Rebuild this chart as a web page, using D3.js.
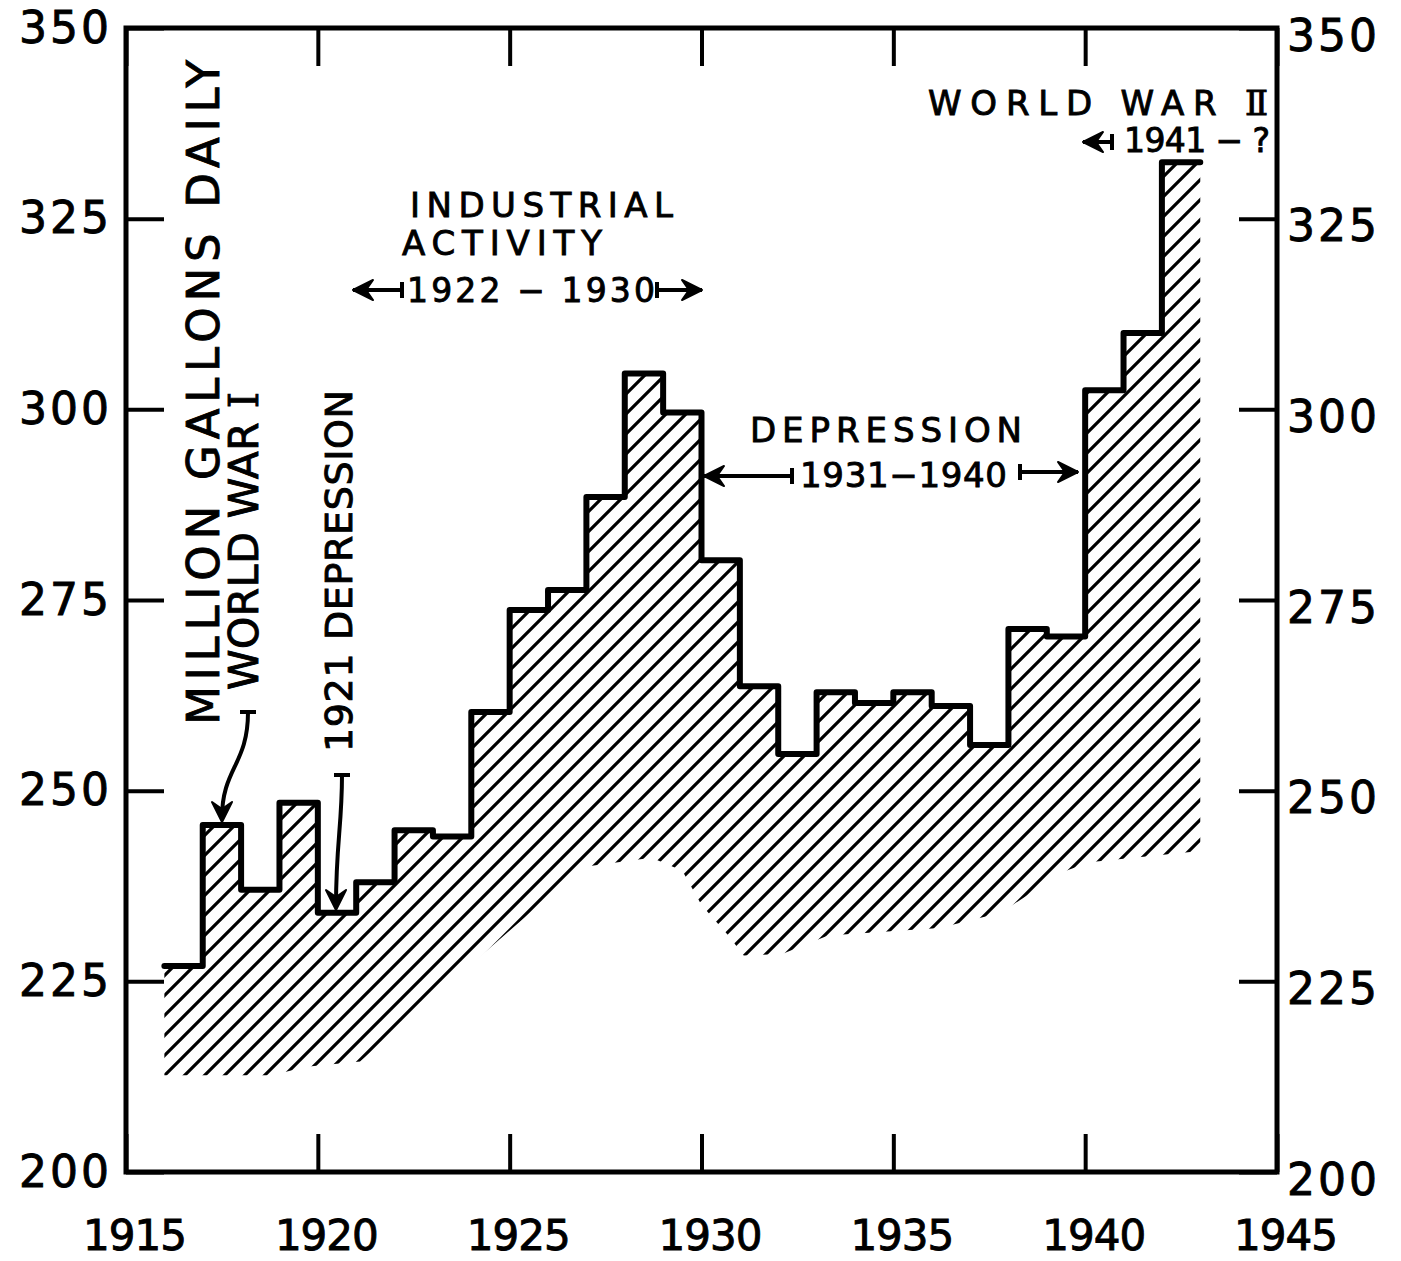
<html>
<head>
<meta charset="utf-8">
<script src="https://cdn.jsdelivr.net/npm/d3@7/dist/d3.min.js"></script>
<style>
  body { margin: 0; background: #fff; }
  svg { display: block; }
  text { font-family: "DejaVu Sans", sans-serif; fill: #000; stroke: #000; stroke-width: 0.9px; }
</style>
</head>
<body>
<svg></svg>
<script>
// water use, million gallons daily, one step per year
var years  = [1916, 1917, 1918, 1919, 1920, 1921, 1922, 1923, 1924, 1925, 1926, 1927, 1928, 1929,
              1930, 1931, 1932, 1933, 1934, 1935, 1936, 1937, 1938, 1939, 1940, 1941, 1942];
var values = [227, 245.5, 237, 248.4, 234, 238, 244.8, 244, 260.3, 273.7, 276.3, 288.5, 304.7, 299.6,
              280.2, 263.7, 254.8, 262.9, 261.5, 262.9, 261.1, 256, 271.2, 270.2, 302.5, 310, 332.4];
var lastYearEnd = 1943;

// lower edge of the hatching (year, value)
var hatchYears  = [1916, 1918.8, 1919.7, 1921.1, 1926.9, 1928.7, 1929.5, 1930, 1930.7, 1931.1,
                   1932.1, 1933.3, 1936.2, 1937.8, 1939.4, 1940.1, 1943];
var hatchBottom = [212.7, 212.7, 213.8, 214.5, 240, 241.2, 239.5, 235, 231, 228.4,
                   228.6, 231, 232, 234, 239.3, 240.6, 242.1];

var xTicks = [1915, 1920, 1925, 1930, 1935, 1940, 1945];
var yTicks = [200, 225, 250, 275, 300, 325, 350];

var W = 1401, H = 1261;
var svg = d3.select("svg").attr("width", W).attr("height", H);

var x = d3.scaleLinear().domain([1915, 1945]).range([126, 1277]);
var y = d3.scaleLinear().domain([200, 350]).range([1172, 28]);

// hatch pattern
var defs = svg.append("defs");
var pat = defs.append("pattern")
  .attr("id", "hatch").attr("patternUnits", "userSpaceOnUse")
  .attr("width", 20).attr("height", 20);
pat.append("path")
  .attr("d", "M-5,5 l10,-10 M0,20 l20,-20 M15,25 l10,-10")
  .attr("stroke", "#000").attr("stroke-width", 3.2);

// area between step line and lower hatch edge
var stepPts = [];
years.forEach(function(yr, i) {
  var next = i < years.length - 1 ? years[i + 1] : lastYearEnd;
  stepPts.push([yr, values[i]]);
  stepPts.push([next, values[i]]);
});
var lowPts = hatchYears.map(function(yr, i) { return [yr, hatchBottom[i]]; }).reverse();
var line = d3.line().x(function(d){ return x(d[0]); }).y(function(d){ return y(d[1]); });

svg.append("path")
  .attr("d", line(stepPts.concat(lowPts)) + "Z")
  .attr("fill", "url(#hatch)");

// step outline
svg.append("path")
  .attr("d", line(stepPts))
  .attr("fill", "none").attr("stroke", "#000").attr("stroke-width", 6)
  .attr("stroke-linejoin", "round").attr("stroke-linecap", "round");

// axes, ticks inward
function style(g) {
  g.select(".domain").remove();
  g.selectAll(".tick line").attr("stroke", "#000").attr("stroke-width", 4);
  g.selectAll(".tick text").attr("font-size", 44).attr("fill", "#000")
    .attr("font-family", "DejaVu Sans").style("letter-spacing", "3px");
}
svg.append("g").attr("transform", "translate(0,1172)")
  .call(d3.axisBottom(x).tickValues(xTicks).tickSize(-38).tickPadding(48).tickFormat(d3.format("d")))
  .call(style)
  .call(function(g){ g.selectAll(".tick text").attr("font-size", 42).attr("dx", 8).style("letter-spacing", "-1px"); });
svg.append("g").attr("transform", "translate(0,28)")
  .call(d3.axisTop(x).tickValues(xTicks).tickSize(-38).tickFormat(""))
  .call(style);
svg.append("g").attr("transform", "translate(126,0)")
  .call(d3.axisLeft(y).tickValues(yTicks).tickSize(-38).tickPadding(14))
  .call(style);
svg.append("g").attr("transform", "translate(1277,0)")
  .call(d3.axisRight(y).tickValues(yTicks).tickSize(-38).tickPadding(10))
  .call(style)
  .call(function(g){ g.selectAll(".tick text").attr("dy", "0.5em"); });

svg.append("rect")
  .attr("x", x(1915)).attr("y", y(350))
  .attr("width", x(1945) - x(1915)).attr("height", y(200) - y(350))
  .attr("fill", "none").attr("stroke", "#000").attr("stroke-width", 5);

// labels
function label(t, px, py, size, len, rot, roman) {
  var el = svg.append("text")
    .attr("font-size", size)
    .attr("textLength", len).attr("lengthAdjust", "spacing");
  el.append("tspan").text(t);
  if (roman) el.append("tspan").attr("font-family", "DejaVu Serif").text(roman);
  if (rot) el.attr("transform", "translate(" + px + "," + py + ") rotate(-90)");
  else el.attr("x", px).attr("y", py);
  return el;
}
label("MILLION GALLONS DAILY", 219, 725, 45, 665, true);
label("WORLD WAR ", 258, 690, 41, 298, true, "\u2160");
label("1921 DEPRESSION", 352, 752, 38, 362, true);

label("INDUSTRIAL", 410, 217, 34, 263);
label("ACTIVITY", 402, 255, 34, 200);
label("1922 \u2212 1930", 407, 302, 33, 248);
label("DEPRESSION", 750, 442, 34, 272);
label("1931\u22121940", 800, 487, 34, 207);
label("WORLD WAR ", 928, 115, 34, 340, false, "\u2161");
label("1941 \u2212 ?", 1124, 152, 33, 146);

// arrows
function head(tx, ty, ang) {
  svg.append("path")
    .attr("d", "M0,0 L-20,-10 L-13,0 L-20,10 Z")
    .attr("transform", "translate(" + tx + "," + ty + ") rotate(" + ang + ")")
    .attr("fill", "#000").attr("stroke", "#000").attr("stroke-width", 2).attr("stroke-linejoin", "round");
}
function hArrow(tail, tip, py) {
  svg.append("line").attr("x1", tail).attr("x2", tip).attr("y1", py).attr("y2", py)
    .attr("stroke", "#000").attr("stroke-width", 4);
  svg.append("line").attr("x1", tail).attr("x2", tail).attr("y1", py - 8).attr("y2", py + 8)
    .attr("stroke", "#000").attr("stroke-width", 4);
  head(tip, py, tip > tail ? 0 : 180);
}
hArrow(402, 353, 290);
hArrow(657, 702, 290);
hArrow(792, 704, 476);
hArrow(1020, 1078, 472);
hArrow(1112, 1083, 142);

function cArrow(d, bx, by, tx, ty) {
  svg.append("path").attr("d", d).attr("fill", "none")
    .attr("stroke", "#000").attr("stroke-width", 4);
  svg.append("line").attr("x1", bx - 8).attr("x2", bx + 8).attr("y1", by).attr("y2", by)
    .attr("stroke", "#000").attr("stroke-width", 4);
  head(tx, ty, 90);
}
cArrow("M248,712 C248,765 222,768 222,818", 248, 712, 222, 822);
cArrow("M342,775 C342,825 336,845 336,905", 342, 775, 336, 910);
</script>
</body>
</html>
